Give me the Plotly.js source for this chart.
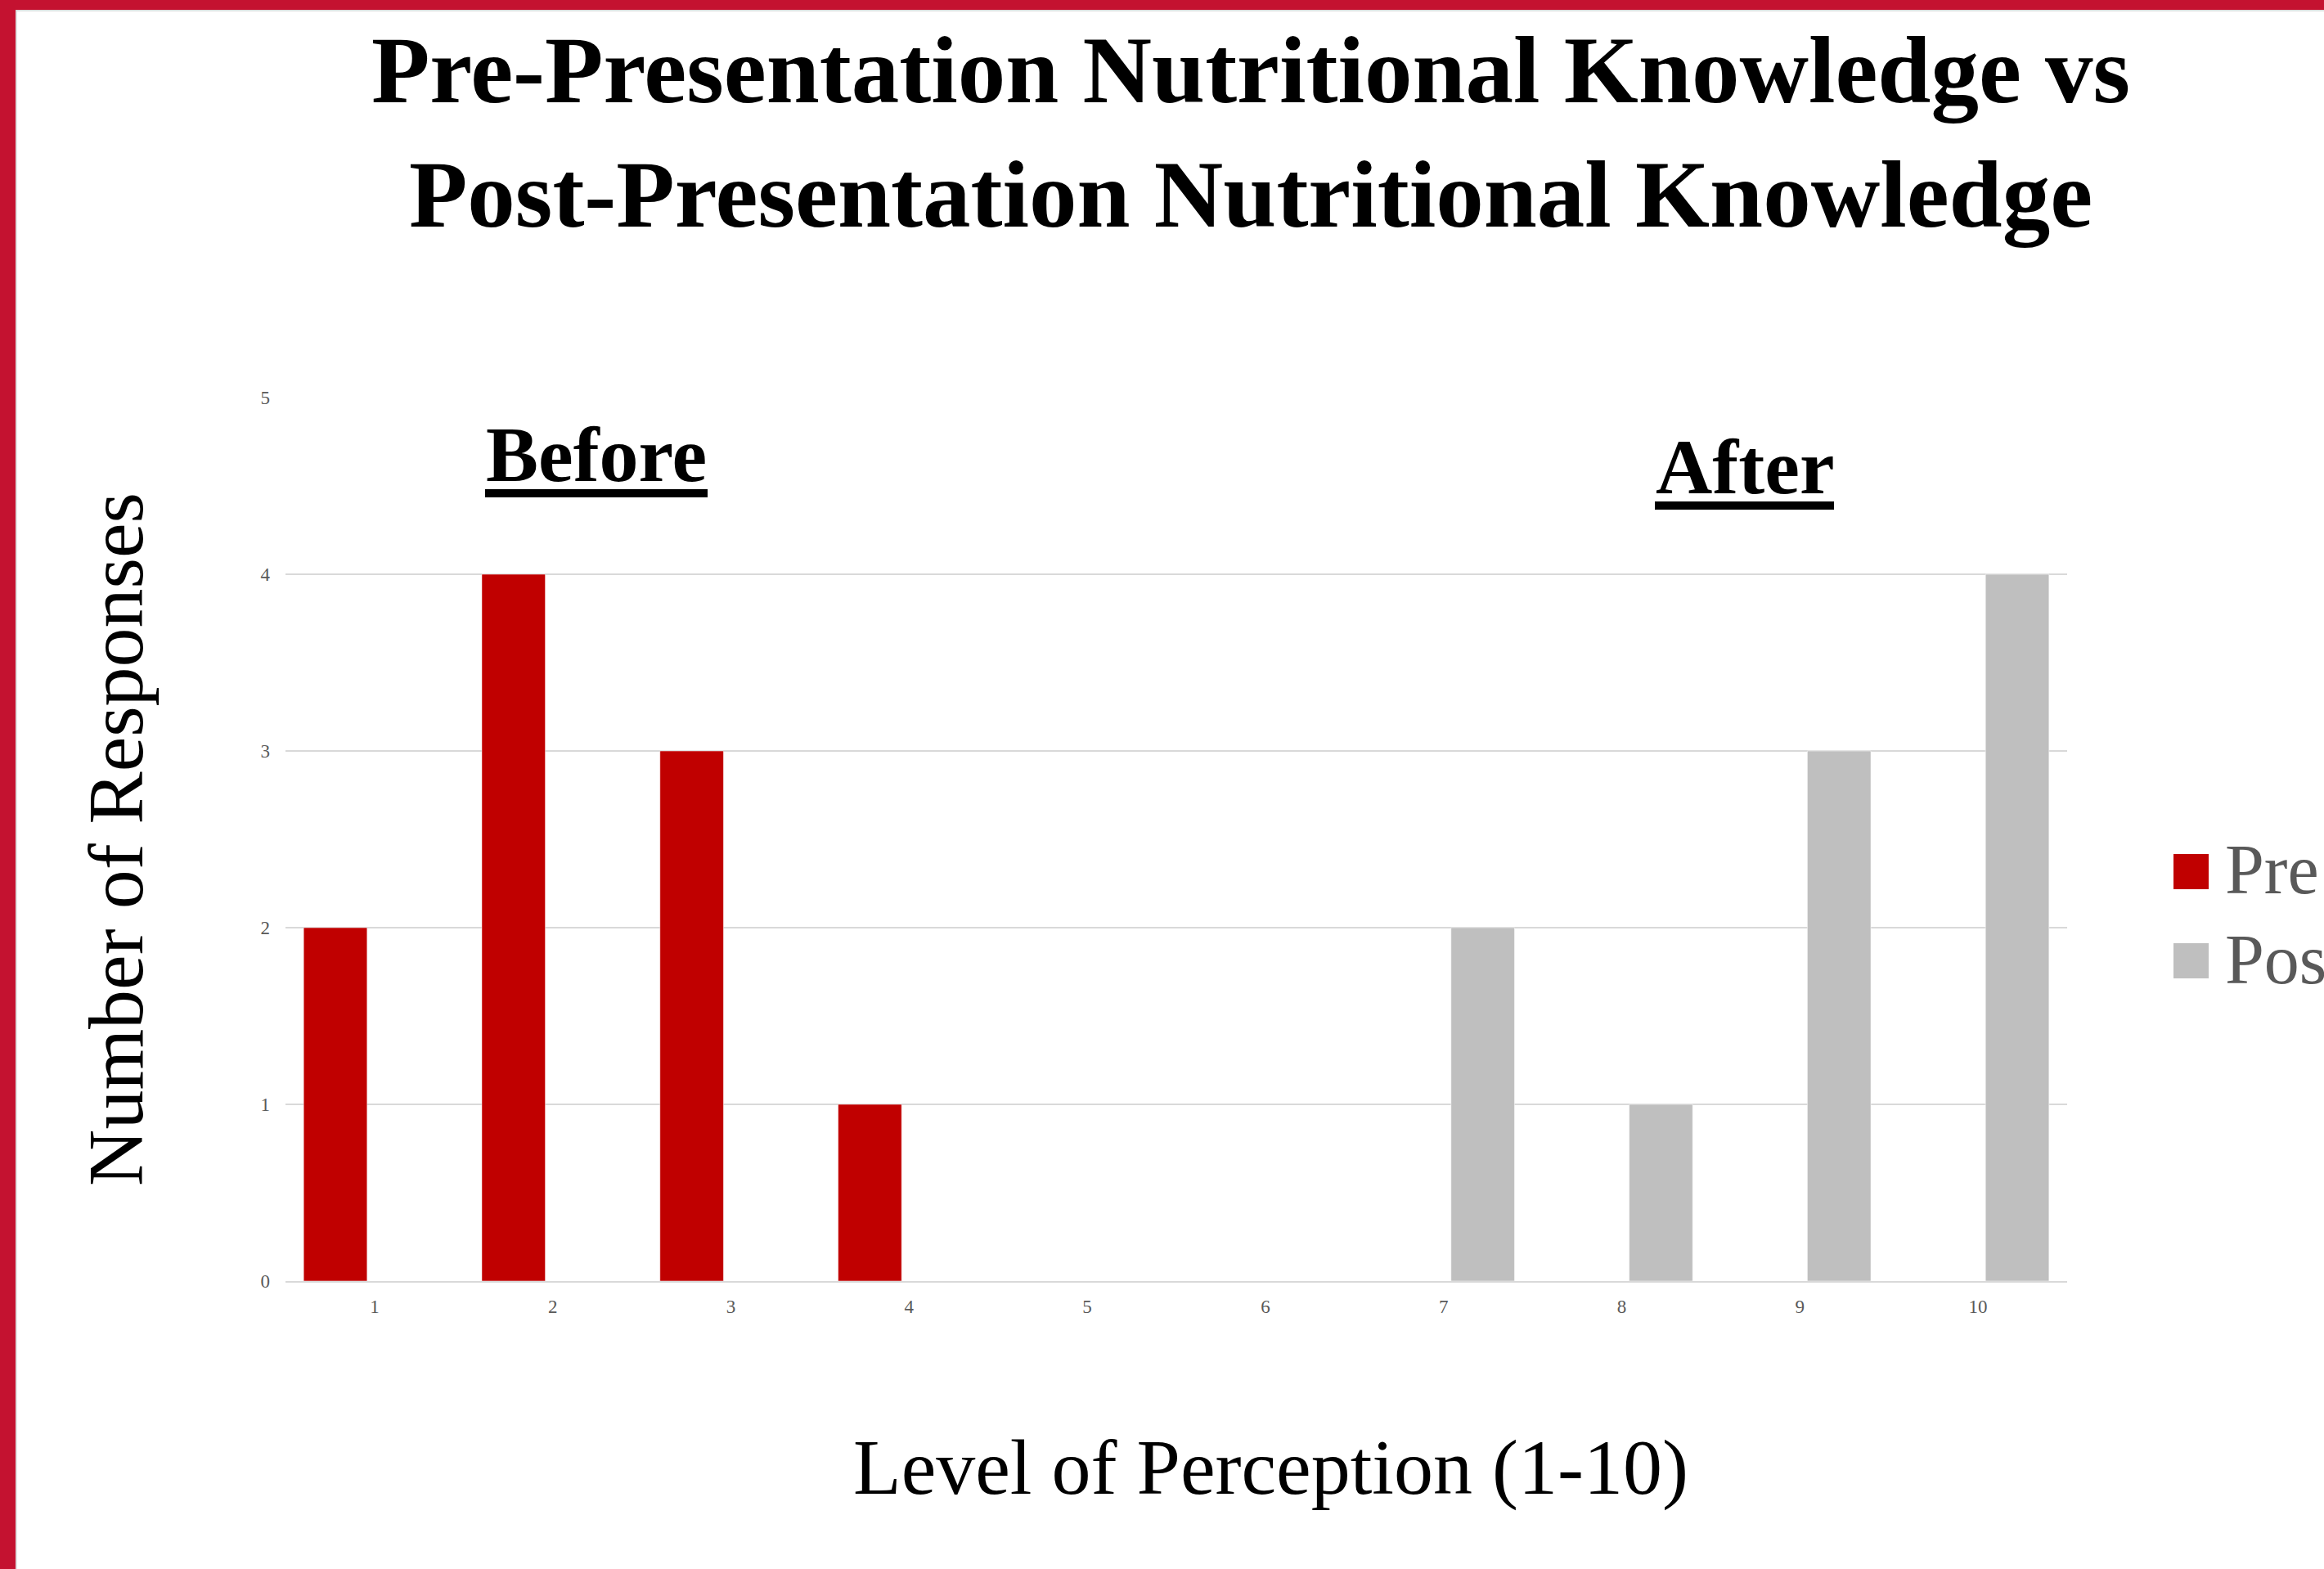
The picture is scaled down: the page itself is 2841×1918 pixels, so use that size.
<!DOCTYPE html>
<html>
<head>
<meta charset="utf-8">
<script src="https://cdn.plot.ly/plotly-3.0.1.min.js"></script>
<style>
  html, body { margin: 0; padding: 0; background: #ffffff; }
  #chart { width: 2841px; height: 1918px; }
</style>
</head>
<body>
<div id="chart"></div>
<script>
// ---- data ----
const categories = ['1', '2', '3', '4', '5', '6', '7', '8', '9', '10'];
const preValues  = [2, 4, 3, 1, 0, 0, 0, 0, 0, 0];
const postValues = [0, 0, 0, 0, 0, 0, 2, 1, 3, 4];
const seriesNames = ['Pre', 'Post'];
const yTicks = [0, 1, 2, 3, 4, 5];
const titleText = 'Pre-Presentation Nutritional Knowledge vs<br>Post-Presentation Nutritional Knowledge';
const xTitleText = 'Level of Perception (1-10)';
const yTitleText = 'Number of Responses';
const groupLabels = ['Before', 'After'];

// ---- layout geometry (pixels) ----
const PAGE_W = 2841, PAGE_H = 1918;
const L = 349, R = 2527, T = 486, B = 1566;
const px = x => (x - L) / (R - L);
const py = y => (B - y) / (B - T);

const FONT = '"Liberation Serif", "Times New Roman", Times, serif';
const RED = '#c00000', GRAY = '#bfbfbf', FRAME = '#c41230';

const traces = [
  { type: 'bar', name: seriesNames[0], x: categories, y: preValues,
    marker: { color: RED, line: { color: 'rgba(255,255,255,0.5)', width: 1 } }, showlegend: false },
  { type: 'bar', name: seriesNames[1], x: categories, y: postValues,
    marker: { color: GRAY, line: { color: 'rgba(255,255,255,0.5)', width: 1 } }, showlegend: false }
];

const layout = {
  width: PAGE_W, height: PAGE_H,
  paper_bgcolor: '#ffffff', plot_bgcolor: '#ffffff',
  margin: { l: L, r: PAGE_W - R, t: T, b: PAGE_H - B, autoexpand: false },
  barmode: 'group', bargap: 0.12, bargroupgap: 0.19,
  font: { family: FONT, color: '#000000' },
  title: {
    text: titleText,
    font: { family: FONT, size: 117, color: '#000000', weight: 'bold' },
    x: 1529 / PAGE_W, xref: 'container', xanchor: 'center',
    y: 1 - 125 / PAGE_H, yref: 'container', yanchor: 'top'
  },
  xaxis: {
    type: 'category', categoryorder: 'array', categoryarray: categories,
    showgrid: false, showline: true, linecolor: '#d9d9d9', linewidth: 2,
    ticks: '', ticklabelstandoff: 9,
    tickfont: { family: FONT, size: 23, color: '#595959' },
    fixedrange: true
  },
  yaxis: {
    range: [0, 5], tickvals: yTicks, ticktext: yTicks.map(String),
    showgrid: true, gridcolor: '#d9d9d9', gridwidth: 2,
    zeroline: false, showline: false, ticks: '', ticklabelstandoff: 18,
    tickfont: { family: FONT, size: 23, color: '#595959' },
    title: { text: yTitleText, font: { family: FONT, size: 96, color: '#000000' }, standoff: 111 },
    fixedrange: true
  },
  annotations: [
    { text: xTitleText, xref: 'paper', yref: 'paper', x: px(1553), y: py(1793),
      xanchor: 'center', yanchor: 'middle', showarrow: false,
      font: { family: FONT, size: 96, color: '#000000' } },
    { text: '<b>' + groupLabels[0] + '</b>', xref: 'paper', yref: 'paper', x: px(729), y: py(555),
      xanchor: 'center', yanchor: 'middle', showarrow: false,
      font: { family: FONT, size: 96, color: '#000000' } },
    { text: '<b>' + groupLabels[1] + '</b>', xref: 'paper', yref: 'paper', x: px(2133), y: py(570),
      xanchor: 'center', yanchor: 'middle', showarrow: false,
      font: { family: FONT, size: 96, color: '#000000' } },
    { text: seriesNames[0], xref: 'paper', yref: 'paper', x: px(2718), y: py(1063),
      xanchor: 'left', yanchor: 'middle', showarrow: false,
      font: { family: FONT, size: 86, color: '#595959' } },
    { text: seriesNames[1], xref: 'paper', yref: 'paper', x: px(2718), y: py(1173),
      xanchor: 'left', yanchor: 'middle', showarrow: false,
      font: { family: FONT, size: 86, color: '#595959' } }
  ],
  shapes: [
    // frame
    { type: 'rect', xref: 'paper', yref: 'paper', x0: px(0), x1: px(PAGE_W), y0: py(0), y1: py(12),
      fillcolor: FRAME, line: { width: 0 }, layer: 'above' },
    { type: 'rect', xref: 'paper', yref: 'paper', x0: px(0), x1: px(19), y0: py(0), y1: py(PAGE_H),
      fillcolor: FRAME, line: { width: 0 }, layer: 'above' },
    { type: 'line', xref: 'paper', yref: 'paper', x0: px(20), x1: px(20), y0: py(12), y1: py(PAGE_H),
      line: { color: '#d4d4d4', width: 1.5 }, layer: 'above' },
    { type: 'line', xref: 'paper', yref: 'paper', x0: px(19), x1: px(PAGE_W), y0: py(13), y1: py(13),
      line: { color: '#d4d4d4', width: 1.5 }, layer: 'above' },
    // underlines of group labels
    { type: 'line', xref: 'paper', yref: 'paper', x0: px(593), x1: px(865), y0: py(603), y1: py(603),
      line: { color: '#000000', width: 10 } },
    { type: 'line', xref: 'paper', yref: 'paper', x0: px(2023), x1: px(2242), y0: py(618), y1: py(618),
      line: { color: '#000000', width: 10 } },
    // legend swatches
    { type: 'rect', xref: 'paper', yref: 'paper', x0: px(2657), x1: px(2700), y0: py(1087), y1: py(1044),
      fillcolor: RED, line: { width: 0 } },
    { type: 'rect', xref: 'paper', yref: 'paper', x0: px(2657), x1: px(2700), y0: py(1196), y1: py(1153),
      fillcolor: GRAY, line: { width: 0 } }
  ],
  showlegend: false
};

Plotly.newPlot('chart', traces, layout, { displayModeBar: false, staticPlot: true });
</script>
</body>
</html>
